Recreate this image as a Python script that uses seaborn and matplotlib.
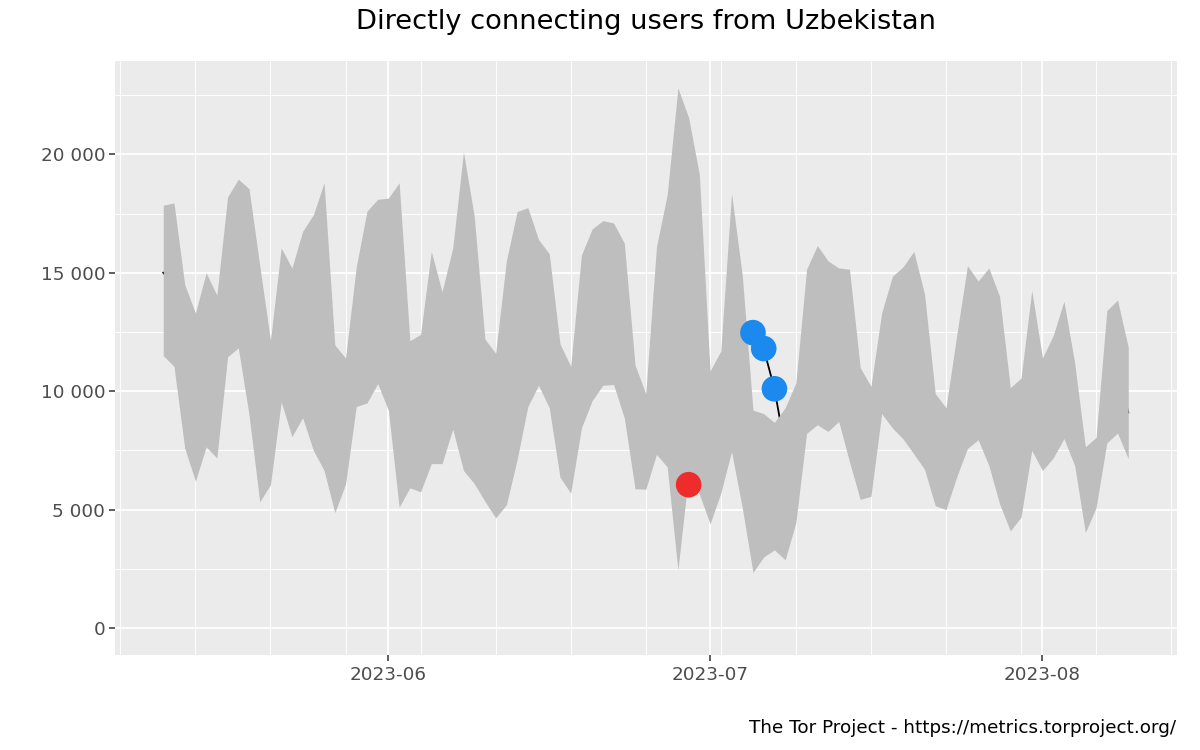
import numpy as np
import pandas as pd
import matplotlib
matplotlib.use("Agg")
import matplotlib.pyplot as plt
import matplotlib.dates as mdates
from matplotlib.ticker import FixedLocator, MultipleLocator, FuncFormatter
import seaborn as sns

# ---------------- data ----------------
start_date = "2023-05-11"
end_date = "2023-08-09"

upper = [
    17850, 17950, 14500, 13300, 15000, 14050, 18200, 18950, 18550, 15300,
    12150, 16050, 15200, 16750, 17450, 18800, 11950, 11400, 15250, 17600,
    18100,
    18150, 18800, 12130, 12400, 15900, 14200, 16050, 20100, 17400, 12200,
    11600, 15500, 17580, 17750, 16400, 15800, 12000, 11050, 15750, 16850,
    17200, 17100, 16250, 11100, 9900, 16100, 18300, 22800, 21550, 19150,
    10850, 11700, 18350, 14900, 9200, 9050, 8680, 9300, 10350, 15150,
    16150, 15500, 15200, 15150, 11000, 10200, 13300, 14850, 15250, 15900,
    14100, 9900, 9300, 12350, 15300, 14650, 15200, 14000, 10150, 10550,
    14250,
    11400, 12350, 13800, 11200, 7650, 8050, 13400, 13850, 11850,
]

lower = [
    11500, 11050, 7600, 6200, 7650, 7180, 11450, 11830, 9000, 5330,
    6050, 9550, 8080, 8880, 7500, 6650, 4870, 6080, 9350, 9500,
    10320,
    9190, 5100, 5920, 5750, 6940, 6940, 8400, 6650, 6100, 5350,
    4650, 5200, 7100, 9350, 10250, 9300, 6370, 5700, 8450, 9600,
    10250, 10280, 8870, 5880, 5860, 7330, 6800, 2450, 6500, 5650,
    4400, 5700, 7450, 5080, 2350, 3000, 3300, 2880, 4450, 8220,
    8580, 8300, 8720, 7020, 5430, 5560, 9050, 8450, 7980, 7350,
    6700, 5160, 5000, 6380, 7580, 7950, 6860, 5240, 4100, 4680,
    7500,
    6650, 7180, 8000, 6860, 4030, 5080, 7820, 8230, 7150,
]

users = [
    15000, 14500, 11000, 9800, 11300, 10600, 14800, 15400, 13800, 10300,
    9100, 12800, 11600, 12800, 12500, 12700, 8400, 8700, 12300, 13500,
    14200,
    13700, 12000, 9000, 9100, 11400, 10600, 12200, 13400, 11800, 8800,
    8100, 10400, 12300, 13500, 13300, 12500, 9200, 8400, 12100, 13200,
    13700, 13700, 12600, 8500, 7900, 11700, 12500, 12600, 6050, 12400,
    7600, 8800, 12900, 13100, 12470, 11800, 10100, 7600, 7400, 11700,
    12400, 11900, 12000, 11100, 8200, 7900, 11200, 11700, 11600, 11600,
    10400, 7500, 7200, 9400, 11400, 11300, 11000, 9600, 7100, 7600,
    10900,
    9000, 9800, 10900, 9000, 5800, 6600, 10600, 11000, 9100,
]

downturn_dates = ["2023-06-29"]
downturn_values = [6050]
upturn_dates = ["2023-07-05", "2023-07-06", "2023-07-07"]
upturn_values = [12470, 11800, 10100]

y_ticks = [0, 5000, 10000, 15000, 20000]
x_tick_dates = ["2023-06-01", "2023-07-01", "2023-08-01"]

title = "Directly connecting users from Uzbekistan"
caption = "The Tor Project - https://metrics.torproject.org/"

dates = pd.date_range(start_date, end_date, freq="D")
df = pd.DataFrame({"date": dates, "users": users, "lower": lower, "upper": upper})
pts = pd.DataFrame({
    "date": pd.to_datetime(downturn_dates + upturn_dates),
    "users": downturn_values + upturn_values,
    "kind": ["down"] * len(downturn_dates) + ["up"] * len(upturn_dates),
})

# ---------------- style ----------------
sns.set_theme(style="darkgrid", rc={
    "axes.facecolor": "#EBEBEB",
    "grid.color": "white",
    "axes.edgecolor": "#EBEBEB",
    "xtick.bottom": True,
    "ytick.left": True,
})
plt.rcParams["font.family"] = ["DejaVu Sans"]

fig = plt.figure(figsize=(12, 7.5), dpi=100)
fig.patch.set_facecolor("white")
L, R, T, B = 115, 1176.5, 61, 655
ax = fig.add_axes([L / 1200, 1 - B / 750, (R - L) / 1200, (B - T) / 750])
ax.set_axisbelow(True)

# line (drawn below ribbon)
sns.lineplot(data=df, x="date", y="users", ax=ax, color="black", linewidth=1.3,
             zorder=1, legend=False)
for ln in ax.lines:
    ln.set_solid_capstyle("projecting")
    ln.set_zorder(1)

# ribbon
ax.fill_between(df["date"], df["lower"], df["upper"], color="#BEBEBE",
                linewidth=0, zorder=2)

# points
sns.scatterplot(data=pts, x="date", y="users", hue="kind",
                palette={"down": "#EE2C2C", "up": "#1C89EE"},
                s=340, linewidth=0, ax=ax, zorder=3, legend=False)

# ---------------- axes ----------------
d0 = mdates.date2num(dates[0])
d1 = mdates.date2num(dates[-1])
pad = (d1 - d0) * 0.05
ax.set_xlim(d0 - pad, d1 + pad)
ymax = max(upper)
ax.set_ylim(-0.05 * ymax, ymax * 1.05)

ax.xaxis.set_major_locator(FixedLocator(mdates.date2num(pd.to_datetime(x_tick_dates))))
ax.xaxis.set_major_formatter(mdates.DateFormatter("%Y-%m"))
ax.xaxis.set_minor_locator(mdates.WeekdayLocator(byweekday=mdates.SU))
ax.yaxis.set_major_locator(FixedLocator(y_ticks))
ax.yaxis.set_minor_locator(MultipleLocator(2500))
ax.yaxis.set_major_formatter(FuncFormatter(lambda v, p: f"{v:,.0f}".replace(",", " ")))

ax.grid(which="major", color="white", linewidth=1.25)
ax.grid(which="minor", color="white", linewidth=0.65)
ax.tick_params(which="major", length=4, width=1.1, color="#333333",
               labelsize=13.2, labelcolor="#4D4D4D", pad=3,
               bottom=True, left=True)
ax.tick_params(which="minor", length=0)
ax.tick_params(axis="x", pad=4)
ax.set_xlabel("")
ax.set_ylabel("")
for s in ax.spines.values():
    s.set_visible(False)

fig.text(((L + R) / 2) / 1200, 1 - 22 / 750, title, ha="center", va="center",
         fontsize=19.6, color="black")
fig.text(R / 1200, 1 - 728 / 750, caption, ha="right", va="center",
         fontsize=13.2, color="black")

fig.savefig("out.png", dpi=100, facecolor="white")
